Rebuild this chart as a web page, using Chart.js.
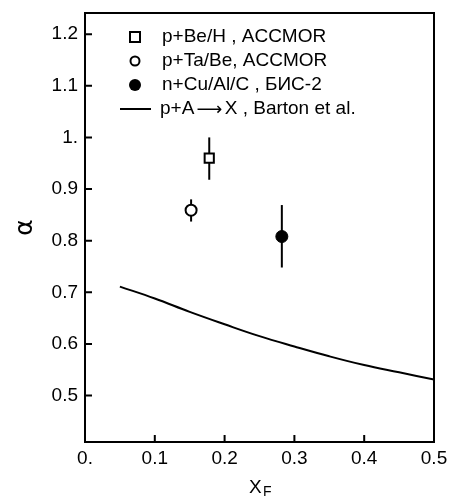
<!DOCTYPE html>
<html>
<head>
<meta charset="utf-8">
<script src="https://cdn.jsdelivr.net/npm/chart.js@4.4.1/dist/chart.umd.min.js"></script>
<style>
html,body{margin:0;padding:0;background:#fff;}
#wrap{width:449px;height:496px;position:relative;}
</style>
</head>
<body>
<div id="wrap"><canvas id="c" width="449" height="496"></canvas></div>
<script>
// ---- data ----
const seriesNames = ["p+Be/H , ACCMOR", "p+Ta/Be, ACCMOR", "n+Cu/Al/C , БИС-2", "p+A ⟶ X , Barton et al."];
const beH_x = [0.178], beH_y = [0.96], beH_lo = [0.918], beH_hi = [1.0];
const taBe_x = [0.152], taBe_y = [0.859], taBe_lo = [0.837], taBe_hi = [0.880];
const cu_x = [0.282], cu_y = [0.808], cu_lo = [0.748], cu_hi = [0.869];
const curve_x = [0.05, 0.1, 0.15, 0.2, 0.25, 0.3, 0.35, 0.4, 0.45, 0.5];
const curve_y = [0.711, 0.688, 0.662, 0.638, 0.615, 0.595, 0.576, 0.559, 0.545, 0.531];
const xTickValues = [0, 0.1, 0.2, 0.3, 0.4, 0.5];
const xTickLabels = ["0.", "0.1", "0.2", "0.3", "0.4", "0.5"];
const yTickValues = [0.5, 0.6, 0.7, 0.8, 0.9, 1.0, 1.1, 1.2];
const yTickLabels = ["0.5", "0.6", "0.7", "0.8", "0.9", "1.", "1.1", "1.2"];
const xTitle = "X", xTitleSub = "F", yTitle = "α";

const pts = (xs, ys) => xs.map((x, i) => ({x: x, y: ys[i]}));
const FONT = "'Liberation Sans', Arial, sans-serif";
const SYMFONT = "'DejaVu Sans', sans-serif";

const errorSets = [
  {x: beH_x, lo: beH_lo, hi: beH_hi},
  {x: taBe_x, lo: taBe_lo, hi: taBe_hi},
  {x: cu_x, lo: cu_lo, hi: cu_hi}
];

const customPlugin = {
  id: 'custom',
  beforeDatasetsDraw(chart) {
    const ctx = chart.ctx, xs = chart.scales.x, ys = chart.scales.y;
    ctx.save();
    ctx.strokeStyle = '#000';
    ctx.lineWidth = 2;
    errorSets.forEach(s => {
      s.x.forEach((xv, i) => {
        const px = xs.getPixelForValue(xv);
        ctx.beginPath();
        ctx.moveTo(px, ys.getPixelForValue(s.lo[i]));
        ctx.lineTo(px, ys.getPixelForValue(s.hi[i]));
        ctx.stroke();
      });
    });
    ctx.restore();
  },
  afterDraw(chart) {
    const ctx = chart.ctx, a = chart.chartArea, xs = chart.scales.x, ys = chart.scales.y;
    ctx.save();
    ctx.strokeStyle = '#000';
    ctx.lineWidth = 2;
    ctx.strokeRect(a.left, a.top, a.right - a.left, a.bottom - a.top);
    // ticks (inward)
    ctx.beginPath();
    ys.ticks.forEach(t => {
      const py = ys.getPixelForValue(t.value);
      ctx.moveTo(a.left, py); ctx.lineTo(a.left + 7, py);
    });
    xs.ticks.forEach(t => {
      const px = xs.getPixelForValue(t.value);
      ctx.moveTo(px, a.bottom); ctx.lineTo(px, a.bottom - 7);
    });
    ctx.stroke();
    // legend
    const lx = a.left + 50, tx = a.left + 77;
    const rows = [a.top + 24, a.top + 48, a.top + 72, a.top + 96];
    ctx.lineWidth = 2;
    ctx.strokeRect(lx - 5, rows[0] - 5, 10, 10);
    ctx.beginPath(); ctx.arc(lx, rows[1], 4.5, 0, Math.PI * 2); ctx.stroke();
    ctx.fillStyle = '#000';
    ctx.beginPath(); ctx.arc(lx, rows[2], 6, 0, Math.PI * 2); ctx.fill();
    ctx.beginPath(); ctx.moveTo(a.left + 35, rows[3]); ctx.lineTo(a.left + 66, rows[3]); ctx.stroke();
    const F19 = "19px " + FONT;
    ctx.font = F19;
    ctx.textBaseline = 'middle';
    ctx.textAlign = 'left';
    seriesNames.forEach((n, i) => {
      if (i !== 3) { ctx.fillText(n, tx, rows[i]); return; }
      const parts = n.split('⟶');
      let x = a.left + 75;
      ctx.fillText(parts[0], x, rows[i]);
      x += ctx.measureText(parts[0]).width;
      ctx.font = "18px " + SYMFONT;
      ctx.fillText('⟶', x - 3, rows[i] + 1);
      x += ctx.measureText('⟶').width - 6;
      ctx.font = F19;
      ctx.fillText(parts[1], x, rows[i]);
    });
    // x title with subscript
    ctx.font = "19px " + FONT;
    ctx.textBaseline = 'alphabetic';
    ctx.fillText(xTitle, 249, 493);
    ctx.font = "14px " + FONT;
    ctx.fillText(xTitleSub, 263, 496);
    ctx.restore();
  }
};

new Chart(document.getElementById('c'), {
  data: {
    datasets: [
      {type: 'scatter', label: seriesNames[0], data: pts(beH_x, beH_y), pointStyle: 'rect', pointRadius: 6.5,
       backgroundColor: '#fff', borderColor: '#000', borderWidth: 2},
      {type: 'scatter', label: seriesNames[1], data: pts(taBe_x, taBe_y), pointStyle: 'circle', pointRadius: 5.5,
       backgroundColor: '#fff', borderColor: '#000', borderWidth: 2},
      {type: 'scatter', label: seriesNames[2], data: pts(cu_x, cu_y), pointStyle: 'circle', pointRadius: 6,
       backgroundColor: '#000', borderColor: '#000', borderWidth: 1},
      {type: 'line', label: seriesNames[3], data: pts(curve_x, curve_y), borderColor: '#000', borderWidth: 2,
       pointRadius: 0, tension: 0.4, fill: false}
    ]
  },
  options: {
    responsive: false,
    animation: false,
    devicePixelRatio: 1,
    layout: {padding: {left: 0, right: 15, top: 13, bottom: 0}},
    plugins: {legend: {display: false}, tooltip: {enabled: false}},
    scales: {
      x: {
        type: 'linear', min: 0, max: 0.5,
        afterBuildTicks: s => { s.ticks = xTickValues.map(v => ({value: v})); },
        afterFit: s => { s.height = 54; s.paddingLeft = 0; s.paddingRight = 0; },
        grid: {display: false, drawTicks: false},
        border: {display: false},
        ticks: {color: '#000', font: {family: FONT, size: 19}, padding: 5, maxRotation: 0,
                callback: (v) => { const i = xTickValues.findIndex(t => Math.abs(t - v) < 1e-9); return i >= 0 ? xTickLabels[i] : ''; }}
      },
      y: {
        type: 'linear', min: 0.41, max: 1.241,
        afterBuildTicks: s => { s.ticks = yTickValues.map(v => ({value: v})); },
        afterFit: s => { s.width = 85; s.paddingTop = 0; s.paddingBottom = 0; },
        grid: {display: false, drawTicks: false},
        border: {display: false},
        title: {display: true, text: yTitle, color: '#000', font: {family: SYMFONT, size: 25}, padding: {top: 10, bottom: 0}},
        ticks: {color: '#000', font: {family: FONT, size: 19}, padding: 7,
                callback: (v) => { const i = yTickValues.findIndex(t => Math.abs(t - v) < 1e-9); return i >= 0 ? yTickLabels[i] : ''; }}
      }
    }
  },
  plugins: [customPlugin]
});
</script>
</body>
</html>
